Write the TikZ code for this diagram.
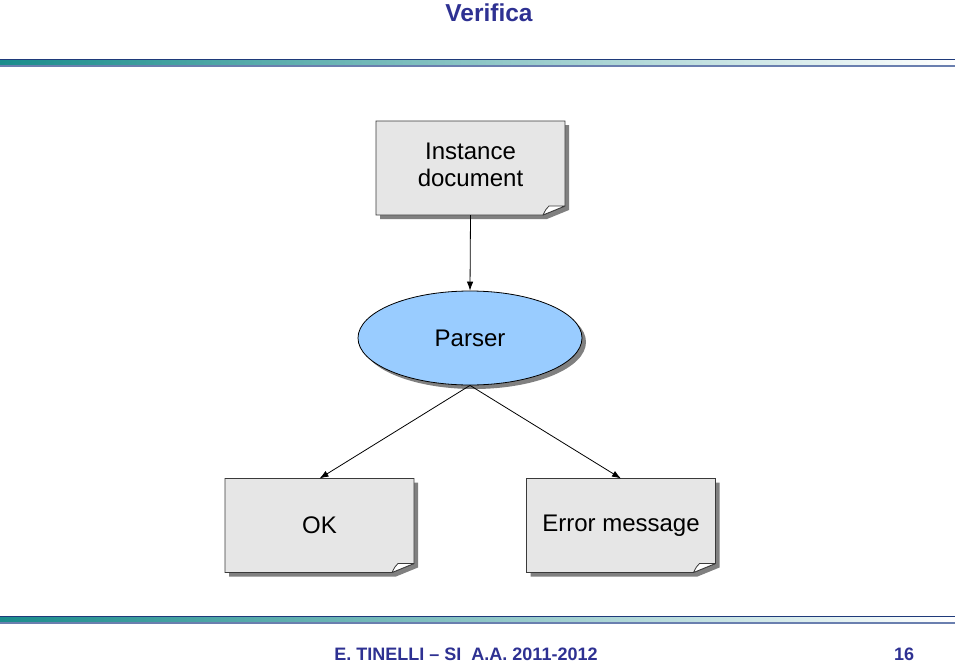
\documentclass[tikz,border=0pt]{standalone}
\usepackage{fontspec}
\setmainfont{Liberation Sans}
\usetikzlibrary{shapes.geometric,arrows.meta,calc,shadows}
\definecolor{navy}{HTML}{2E3192}
\definecolor{docfill}{HTML}{E6E6E6}
\definecolor{parserfill}{HTML}{99CCFF}
\definecolor{shadowc}{HTML}{808080}
\definecolor{boxline}{HTML}{3A3A3A}
\definecolor{barteal}{HTML}{1A8C8C}
\definecolor{barline}{HTML}{1F3A7A}
\definecolor{barline2}{HTML}{6A7FAF}
\pgfdeclarelayer{bg}
\pgfsetlayers{bg,main}
\newcommand\foldbox[1]{%
 \begin{pgfonlayer}{bg}
 \fill[shadowc] ([shift={(4,4)}]#1.north west) -- ([shift={(4,4)}]#1.north east) -- ([shift={(4,-5)}]#1.south east) -- ([shift={(-18,4)}]#1.south east) -- ([shift={(4,4)}]#1.south west) -- cycle;
 \filldraw[draw=boxline, fill=docfill, line width=0.8pt] (#1.north west) -- (#1.north east) -- ([shift={(0,-9)}]#1.south east) -- ([shift={(-22,0)}]#1.south east) -- (#1.south west) -- cycle;
 \filldraw[draw=boxline, fill=white, line width=0.8pt, line join=round] ([shift={(0,-9)}]#1.south east) -- ([shift={(-22,0)}]#1.south east) .. controls ([shift={(-19,-6)}]#1.south east) .. ([shift={(-16,-9)}]#1.south east) -- cycle;
 \end{pgfonlayer}}
\newcommand\slidebar[1]{%
 \shade[left color=barteal, middle color=barteal!45!white, right color=white] (0,#1) rectangle (955,#1+7);
 \draw[barline, line width=1pt] (0,#1) -- (955,#1);
 \draw[barline2, line width=1.5pt] (0,#1+7) -- (955,#1+7);
}
\tikzset{
 docnode/.style={rectangle, align=center, inner sep=0pt, outer sep=0pt, minimum width=189, minimum height=94, font=\fontsize{24}{27}\selectfont},
 arr/.style={draw=black, line width=0.8pt, -{Latex[length=9pt,width=6.5pt]}},
 navytext/.style={text=navy, font=\bfseries\fontsize{18}{20}\selectfont}
}
\begin{document}
\begin{tikzpicture}[x=1pt,y=-1pt]
\useasboundingbox (0,0) rectangle (960,664);
\node[text=navy, font=\bfseries\fontsize{24.5}{28}\selectfont] (title) at (489,13) {Verifica};
\slidebar{59}
\slidebar{616}
\node[docnode] (inst) at (470.5,168) {\raisebox{2pt}{\begin{tabular}{@{}c@{}}Instance\\document\end{tabular}}};
\foldbox{inst}
\node[ellipse, draw=black, fill=parserfill, line width=0.8pt, minimum width=224, minimum height=94, inner sep=0pt,
  font=\fontsize{24}{27}\selectfont,
  drop shadow={shadow xshift=4pt, shadow yshift=-4pt, fill=shadowc, opacity=1}] (parser) at (470,338) {Parser};
\node[docnode] (ok) at (319.5,525.5) {OK};
\foldbox{ok}
\node[docnode] (err) at (621,525.5) {Error message};
\foldbox{err}
\draw[arr] (inst.south) -- (parser.north);
\draw[arr] (parser.south) -- (ok.north);
\draw[arr] (parser.south) -- (err.north);
\node[navytext] (foot) at (466,654) {E. TINELLI – SI\ \ A.A. 2011-2012};
\node[navytext] (page) at (904,654) {16};
\end{tikzpicture}
\end{document}
